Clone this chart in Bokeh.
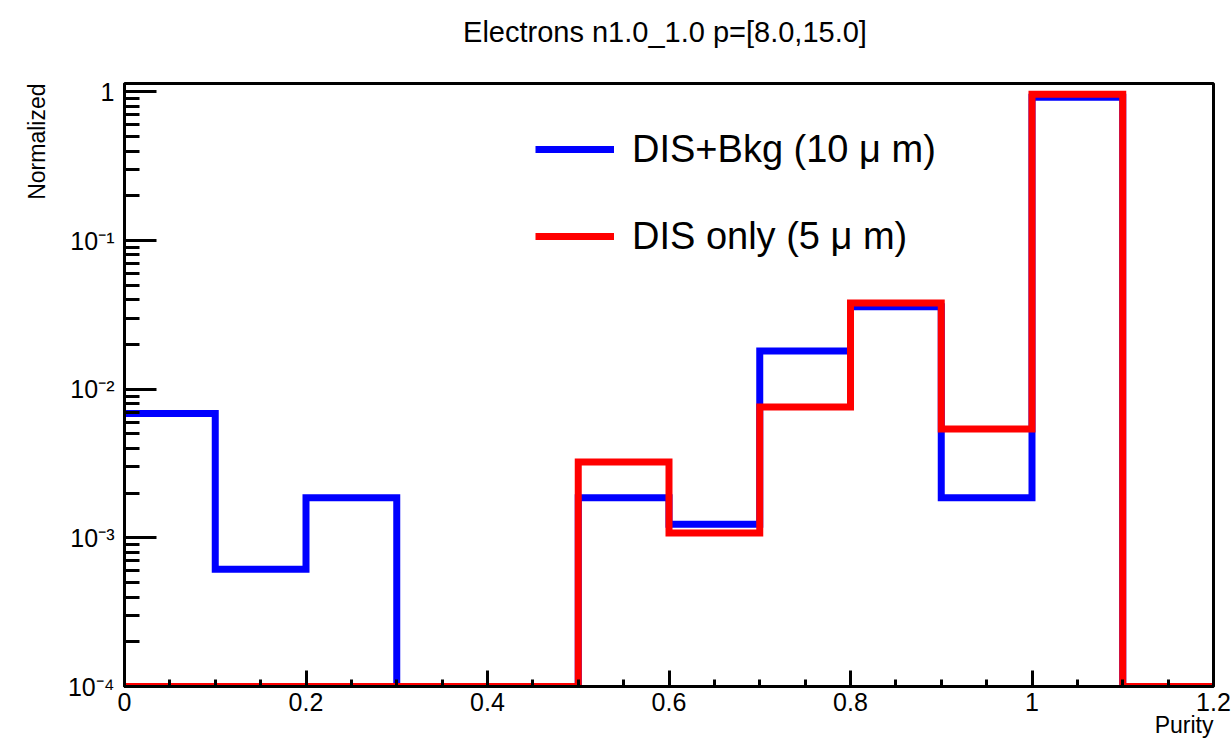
import math
from bokeh.plotting import figure
from bokeh.models import (Range1d, FixedTicker, LogTicker, CustomJSTickFormatter,
                          Legend, LegendItem, ColumnDataSource, Title)
from bokeh.embed import file_html
from bokeh.resources import INLINE

# ---------------- data ----------------
title_text = "Electrons n1.0_1.0  p=[8.0,15.0]"
bin_edges = [0.0, 0.1, 0.2, 0.3, 0.4, 0.5, 0.6, 0.7, 0.8, 0.9, 1.0, 1.1, 1.2]
dis_bkg = [6.87e-3, 6.16e-4, 1.86e-3, 0.0, 0.0, 1.86e-3, 1.236e-3, 1.81e-2, 3.59e-2, 1.86e-3, 0.92, 0.0]
dis_only = [0.0, 0.0, 0.0, 0.0, 0.0, 3.24e-3, 1.08e-3, 7.6e-3, 3.80e-2, 5.41e-3, 0.964, 0.0]
series_labels = ["DIS+Bkg (10 \u03bc m)", "DIS only (5 \u03bc m)"]
series_colors = ["#0000ff", "#ff0000"]
xticks = [0.0, 0.2, 0.4, 0.6, 0.8, 1.0, 1.2]
xtick_labels = ["0", "0.2", "0.4", "0.6", "0.8", "1", "1.2"]
yticks = [1e-4, 1e-3, 1e-2, 1e-1, 1.0]
ytick_labels = ["10\u207b\u2074", "10\u207b\u00b3", "10\u207b\u00b2", "10\u207b\u00b9", "1"]
x_title = "Purity"
y_title = "Normalized"

Y_MIN, Y_MAX = 1e-4, 1.14
X_MIN, X_MAX = 0.0, 1.2
FONT = "Liberation Sans"

p = figure(width=1231, height=741, output_backend="svg", toolbar_location=None,
           y_axis_type="log", x_range=Range1d(X_MIN, X_MAX), y_range=Range1d(Y_MIN, Y_MAX),
           min_border_left=124, min_border_right=18, min_border_top=83, min_border_bottom=55,
           title=title_text)
p.background_fill_color = "white"
p.border_fill_color = "white"
p.grid.visible = False
p.outline_line_color = "black"
p.outline_line_width = 3

p.title.text_font = FONT
p.title.text_font_size = "29px"
p.title.text_font_style = "normal"
p.title.text_color = "black"
p.title.align = "center"
p.title.standoff = 0
# thin spacer between frame and title
p.add_layout(Title(text=" ", text_font_size="1px", standoff=33), "above")


def step_source(values):
    xs, ys = [], []
    for i, v in enumerate(values):
        vv = max(v, Y_MIN)
        xs += [bin_edges[i], bin_edges[i + 1]]
        ys += [vv, vv]
    return ColumnDataSource(dict(x=xs, y=ys))


renderers = []
for vals, col in zip([dis_bkg, dis_only], series_colors):
    r = p.line("x", "y", source=step_source(vals), line_color=col, line_width=7,
               line_join="miter", line_cap="butt")
    renderers.append(r)

legend = Legend(items=[LegendItem(label=lab, renderers=[r]) for lab, r in zip(series_labels, renderers)],
                location=(411, 428), padding=0, margin=0, spacing=43,
                glyph_width=79, glyph_height=44, label_height=44, label_standoff=18,
                label_text_font=FONT, label_text_font_size="38px", label_text_color="black",
                border_line_color=None, background_fill_alpha=0)
p.add_layout(legend)

# x axis
xa = p.xaxis[0]
minor_x = []
for a, b in zip(xticks[:-1], xticks[1:]):
    minor_x += [a + (b - a) * k / 4 for k in range(1, 4)]
xa.ticker = FixedTicker(ticks=xticks, minor_ticks=minor_x)
xa.formatter = CustomJSTickFormatter(args=dict(tv=xticks, lb=xtick_labels), code="""
for (let i = 0; i < tv.length; i++) { if (Math.abs(tick - tv[i]) < 1e-6) return lb[i]; }
return '';
""")
# y axis
ya = p.yaxis[0]
ya.ticker = LogTicker(num_minor_ticks=10)
ya.formatter = CustomJSTickFormatter(args=dict(tv=yticks, lb=ytick_labels), code="""
for (let i = 0; i < tv.length; i++) { if (Math.abs(Math.log10(tick) - Math.log10(tv[i])) < 1e-6) return lb[i]; }
return '';
""")

for ax in (xa, ya):
    ax.axis_line_width = 3
    ax.axis_line_color = "black"
    ax.major_tick_line_width = 3
    ax.minor_tick_line_width = 3
    ax.major_tick_out = 0
    ax.minor_tick_out = 0
    ax.major_label_text_font = FONT
    ax.major_label_text_font_size = "25px"
    ax.major_label_text_color = "black"

xa.major_tick_in = 16
xa.minor_tick_in = 7
xa.major_label_standoff = 6
ya.major_tick_in = 32
ya.minor_tick_in = 15
ya.major_label_standoff = 10

# axis titles, ROOT-style at the far ends of the axes
p.add_layout(Title(text=x_title, align="right", vertical_align="top", standoff=-4,
                   text_font=FONT, text_font_size="23px", text_font_style="normal",
                   text_color="black"), "below")
p.add_layout(Title(text=y_title, align="right", vertical_align="top", standoff=26,
                   text_font=FONT, text_font_size="23px", text_font_style="normal",
                   text_color="black"), "left")

open("out.html", "w").write(file_html(p, INLINE))
